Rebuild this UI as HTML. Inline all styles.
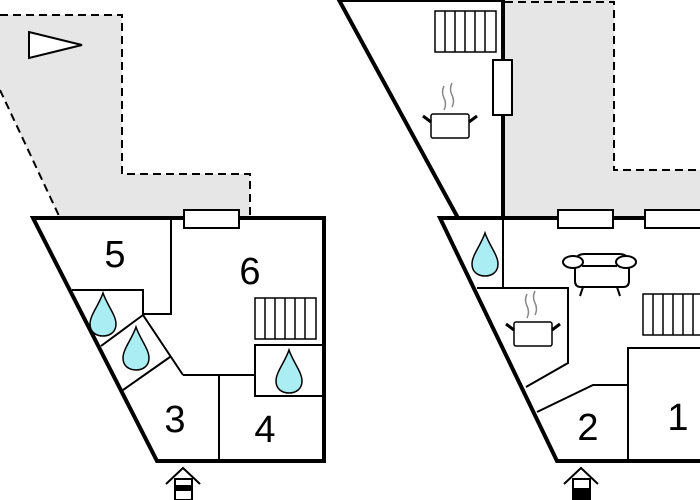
<!DOCTYPE html>
<html><head><style>body{margin:0;background:#fff}svg{display:block}</style></head><body>
<svg width="700" height="500" viewBox="0 0 700 500" xmlns="http://www.w3.org/2000/svg" font-family="Liberation Sans, sans-serif">
<defs>
<path id="drop" d="M0,-22 C4,-10 13,0 13,9 C13,17 7,21 0,21 C-7,21 -13,17 -13,9 C-13,0 -4,-10 0,-22 Z" fill="#aaeef4" stroke="#000" stroke-width="1.5"/>
<g id="stairs" fill="#fff" stroke="#000" stroke-width="1.5">
<rect x="0" y="0" width="61" height="41"/>
<line x1="10" y1="0" x2="10" y2="41"/><line x1="20" y1="0" x2="20" y2="41"/><line x1="30" y1="0" x2="30" y2="41"/><line x1="40" y1="0" x2="40" y2="41"/><line x1="50" y1="0" x2="50" y2="41"/>
</g>
<g id="pot">
<path d="M-6,-24 q-3,6 0,12 q3,6 0,12 M2,-27 q-3,6 0,12 q3,6 0,12" fill="none" stroke="#888" stroke-width="1.5"/>
<rect x="-19" y="4" width="38" height="24" rx="2" fill="#fff" stroke="#000" stroke-width="1.5"/>
<line x1="-19" y1="12" x2="-27" y2="6" stroke="#000" stroke-width="3"/>
<line x1="19" y1="12" x2="27" y2="6" stroke="#000" stroke-width="3"/>
</g>
</defs>

<!-- LEFT -->
<path d="M0,15 L122,15 L122,174 L250,174 L250,218 L60,218 L0,90 Z" fill="#e6e6e6"/>
<path d="M0,15 L122,15 L122,174 L250,174 L250,215 M0,90 L60,218" fill="none" stroke="#000" stroke-width="2" stroke-dasharray="8,5"/>
<polygon points="29,32 29,58 82,45" fill="#fff" stroke="#000" stroke-width="2"/>
<polygon points="33,218 324,218 324,461 157,461" fill="#fff" stroke="#000" stroke-width="4"/>
<g stroke="#000" stroke-width="2" fill="none">
<polyline points="171,218 171,314 143,314 143,290 72,290"/>
<line x1="101" y1="346" x2="143" y2="315"/>
<line x1="143" y1="315" x2="183" y2="375"/>
<line x1="123" y1="390" x2="170" y2="357"/>
<line x1="183" y1="375" x2="255" y2="375"/>
<line x1="219" y1="375" x2="219" y2="461"/>
<rect x="255" y="345" width="68" height="51"/>
</g>
<rect x="184" y="210" width="55" height="18" fill="#fff" stroke="#000" stroke-width="2"/>
<use href="#stairs" x="255" y="298"/>
<use href="#drop" x="103" y="315"/>
<use href="#drop" x="136" y="349"/>
<use href="#drop" x="289" y="372"/>
<g font-size="38" text-anchor="middle">
<text x="115" y="267">5</text><text x="250" y="284">6</text><text x="175" y="432">3</text><text x="265" y="442">4</text>
</g>
<g stroke="#000" stroke-width="2" fill="none">
<polyline points="166,484 183,468 200,484"/>
<rect x="175" y="479" width="17" height="21" fill="#fff"/>
</g>
<rect x="175" y="485" width="17" height="6" fill="#000"/>

<!-- RIGHT -->
<path d="M505,0 L614,0 L614,170 L700,170 L700,218 L505,218 Z" fill="#e6e6e6"/>
<path d="M505,2 L614,2 L614,170 L700,170" fill="none" stroke="#000" stroke-width="2" stroke-dasharray="8,5"/>
<polygon points="339,0 503,0 503,218 458,218" fill="#fff" stroke="#000" stroke-width="4"/>
<polygon points="440,218 704,218 704,461 557,461" fill="#fff" stroke="#000" stroke-width="4"/>
<g stroke="#000" stroke-width="2" fill="none">
<line x1="503" y1="218" x2="503" y2="288"/>
<polyline points="477,288 568,288 568,363 526,387"/>
<polyline points="537,412 593,385 628,385"/>
<polyline points="628,461 628,348 700,348"/>
</g>
<rect x="493" y="60" width="19" height="55" fill="#fff" stroke="#000" stroke-width="2"/>
<rect x="558" y="210" width="55" height="18" fill="#fff" stroke="#000" stroke-width="2"/>
<rect x="645" y="210" width="58" height="18" fill="#fff" stroke="#000" stroke-width="2"/>
<use href="#stairs" x="435" y="11"/>
<use href="#stairs" x="643" y="294"/>
<use href="#pot" x="450" y="110"/>
<use href="#pot" x="533" y="318"/>
<use href="#drop" x="485" y="255"/>
<g stroke="#000" stroke-width="2" fill="#fff">
<path d="M575,263 q0,-9 10,-9 h34 q10,0 10,9 v18 q0,6 -6,6 h-42 q-6,0 -6,-6 z"/>
<ellipse cx="573" cy="262" rx="10" ry="6"/>
<ellipse cx="626" cy="262" rx="10" ry="6"/>
<line x1="582" y1="266" x2="617" y2="266"/>
<line x1="583" y1="287" x2="580" y2="296"/>
<line x1="617" y1="287" x2="620" y2="296"/>
</g>
<g font-size="38" text-anchor="middle">
<text x="588" y="440">2</text><text x="678" y="430">1</text>
</g>
<g stroke="#000" stroke-width="2" fill="none">
<polyline points="564,484 581,468 598,484"/>
<rect x="573" y="479" width="17" height="21" fill="#fff"/>
</g>
<rect x="573" y="488" width="17" height="12" fill="#000"/>
</svg>
</body></html>
